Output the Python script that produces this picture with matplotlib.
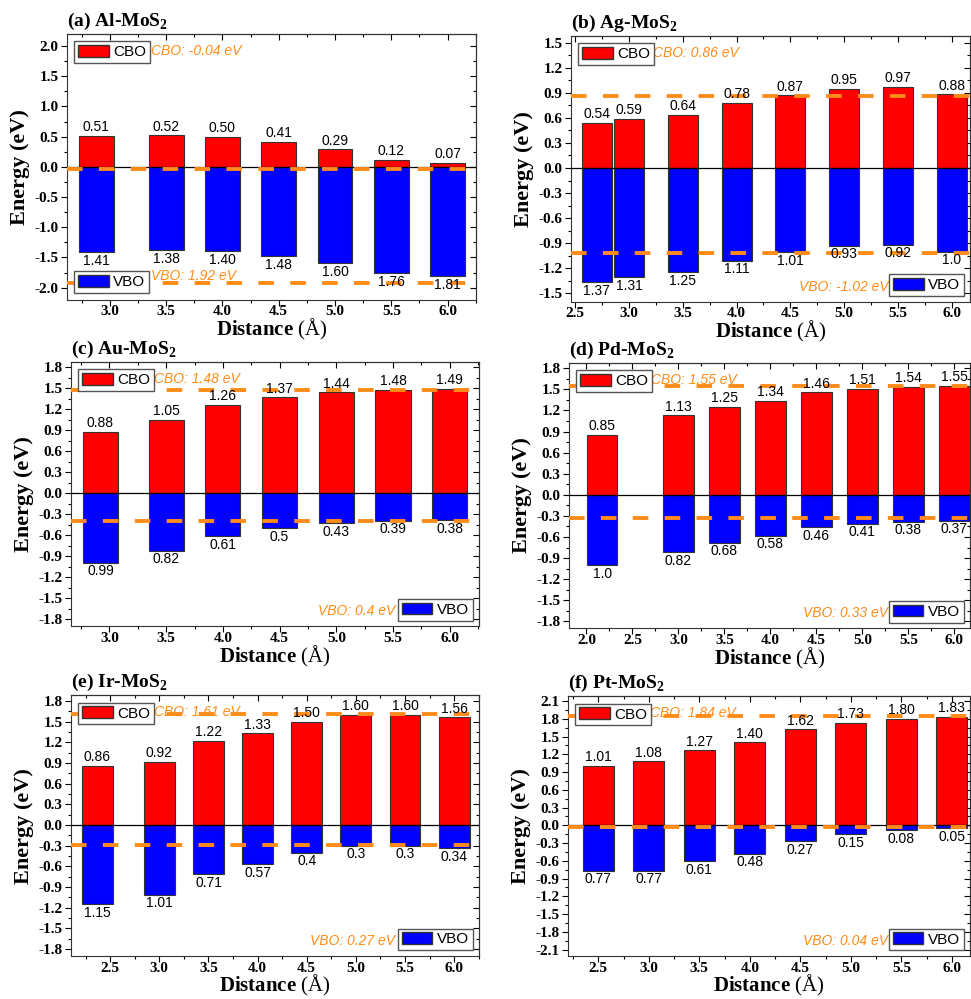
import numpy as np
import matplotlib.pyplot as plt
from matplotlib.ticker import MultipleLocator, FuncFormatter
from matplotlib.patches import Patch

plt.rcParams['font.family'] = 'Liberation Serif'
plt.rcParams['mathtext.fontset'] = 'custom'
plt.rcParams['mathtext.rm'] = 'Liberation Serif'
plt.rcParams['mathtext.bf'] = 'Liberation Serif:bold'

# panel data: distance (A), CBO, VBO, reference levels
titles = ["(a) Al-MoS$_\\mathbf{2}$", "(b) Ag-MoS$_\\mathbf{2}$", "(c) Au-MoS$_\\mathbf{2}$",
          "(d) Pd-MoS$_\\mathbf{2}$", "(e) Ir-MoS$_\\mathbf{2}$", "(f) Pt-MoS$_\\mathbf{2}$"]

dist_a = [2.88, 3.5, 4.0, 4.5, 5.0, 5.5, 6.0]
cbo_a = [0.51, 0.52, 0.50, 0.41, 0.29, 0.12, 0.07]
vbo_a = [-1.41, -1.38, -1.40, -1.48, -1.60, -1.76, -1.81]
vbo_lbl_a = ["1.41", "1.38", "1.40", "1.48", "1.60", "1.76", "1.81"]

dist_b = [2.7, 3.0, 3.5, 4.0, 4.5, 5.0, 5.5, 6.0]
cbo_b = [0.54, 0.59, 0.64, 0.78, 0.87, 0.95, 0.97, 0.88]
vbo_b = [-1.37, -1.31, -1.25, -1.11, -1.01, -0.93, -0.92, -1.0]
vbo_lbl_b = ["1.37", "1.31", "1.25", "1.11", "1.01", "0.93", "0.92", "1.0"]

dist_c = [2.92, 3.5, 4.0, 4.5, 5.0, 5.5, 6.0]
cbo_c = [0.88, 1.05, 1.26, 1.37, 1.44, 1.48, 1.49]
vbo_c = [-0.99, -0.82, -0.61, -0.5, -0.43, -0.39, -0.38]
vbo_lbl_c = ["0.99", "0.82", "0.61", "0.5", "0.43", "0.39", "0.38"]

dist_d = [2.17, 3.0, 3.5, 4.0, 4.5, 5.0, 5.5, 6.0]
cbo_d = [0.85, 1.13, 1.25, 1.34, 1.46, 1.51, 1.54, 1.55]
vbo_d = [-1.0, -0.82, -0.68, -0.58, -0.46, -0.41, -0.38, -0.37]
vbo_lbl_d = ["1.0", "0.82", "0.68", "0.58", "0.46", "0.41", "0.38", "0.37"]

dist_e = [2.37, 3.0, 3.5, 4.0, 4.5, 5.0, 5.5, 6.0]
cbo_e = [0.86, 0.92, 1.22, 1.33, 1.50, 1.60, 1.60, 1.56]
vbo_e = [-1.15, -1.01, -0.71, -0.57, -0.4, -0.3, -0.3, -0.34]
vbo_lbl_e = ["1.15", "1.01", "0.71", "0.57", "0.4", "0.3", "0.3", "0.34"]

dist_f = [2.5, 3.0, 3.5, 4.0, 4.5, 5.0, 5.5, 6.0]
cbo_f = [1.01, 1.08, 1.27, 1.40, 1.62, 1.73, 1.80, 1.83]
vbo_f = [-0.77, -0.77, -0.61, -0.48, -0.27, -0.15, -0.08, -0.05]
vbo_lbl_f = ["0.77", "0.77", "0.61", "0.48", "0.27", "0.15", "0.08", "0.05"]

cbo_level = [-0.04, 0.86, 1.48, 1.55, 1.61, 1.84]
vbo_level = [-1.92, -1.02, -0.40, -0.33, -0.29, -0.03]
cbo_text = ["CBO: -0.04 eV", "CBO: 0.86 eV", "CBO: 1.48 eV", "CBO: 1.55 eV", "CBO: 1.61 eV", "CBO: 1.84 eV"]
vbo_text = ["VBO: 1.92 eV", "VBO: -1.02 eV", "VBO: 0.4 eV", "VBO: 0.33 eV", "VBO: 0.27 eV", "VBO: 0.04 eV"]

dists = [dist_a, dist_b, dist_c, dist_d, dist_e, dist_f]
cbos = [cbo_a, cbo_b, cbo_c, cbo_d, cbo_e, cbo_f]
vbos = [vbo_a, vbo_b, vbo_c, vbo_d, vbo_e, vbo_f]
vbo_lbls = [vbo_lbl_a, vbo_lbl_b, vbo_lbl_c, vbo_lbl_d, vbo_lbl_e, vbo_lbl_f]

# layout (figure fractions) and axis settings
boxes = [[0.069, 0.700, 0.421, 0.266], [0.588, 0.698, 0.411, 0.266],
         [0.073, 0.373, 0.420, 0.265], [0.586, 0.371, 0.413, 0.266],
         [0.073, 0.043, 0.420, 0.261], [0.585, 0.043, 0.414, 0.260]]
xlims = [(2.62, 6.25), (2.46, 6.17), (2.66, 6.255), (1.81, 6.17), (2.1, 6.25), (2.2, 6.18)]
ylims = [(-2.2, 2.2), (-1.6, 1.58), (-1.9, 1.88), (-1.9, 1.88), (-1.9, 1.88), (-2.21, 2.18)]
ysteps = [0.5, 0.3, 0.3, 0.3, 0.3, 0.3]
widths = [0.31, 0.28, 0.31, 0.33, 0.315, 0.307]

orange = '#ff8c1a'
fmt = FuncFormatter(lambda v, p: f"{round(v, 2) + 0.0:.1f}")
fig = plt.figure(figsize=(9.71, 9.99), dpi=100)

for i in range(6):
    ax = fig.add_axes(boxes[i])
    x = dists[i]
    yr = ylims[i][1] - ylims[i][0]
    ax.bar(x, cbos[i], width=widths[i], color='#ff0000', edgecolor='#333333', linewidth=0.8, zorder=2)
    ax.bar(x, vbos[i], width=widths[i], color='#0000ff', edgecolor='#333333', linewidth=0.8, zorder=2)
    ax.axhline(0, color='black', linewidth=0.9, zorder=3)
    ax.axhline(cbo_level[i], color=orange, linewidth=2.8, dashes=(4, 4.2), zorder=4)
    ax.axhline(vbo_level[i], color=orange, linewidth=2.8, dashes=(4, 4.2), zorder=4)

    for xi, c, v, lbl in zip(x, cbos[i], vbos[i], vbo_lbls[i]):
        ax.text(xi, c + 0.006 * yr, f"{c:.2f}", ha='center', va='bottom',
                fontsize=10, family='Liberation Sans', zorder=5)
        ax.text(xi, v - 0.006 * yr, lbl, ha='center', va='top',
                fontsize=10, family='Liberation Sans', zorder=5)

    ax.set_xlim(xlims[i])
    ax.set_ylim(ylims[i])
    ax.xaxis.set_major_locator(MultipleLocator(0.5))
    ax.xaxis.set_minor_locator(MultipleLocator(0.25))
    ax.yaxis.set_major_locator(MultipleLocator(ysteps[i]))
    ax.yaxis.set_minor_locator(MultipleLocator(ysteps[i] / 2))
    ax.xaxis.set_major_formatter(fmt)
    ax.yaxis.set_major_formatter(fmt)
    ax.tick_params(which='both', direction='out', top=False, right=False, labelsize=11, width=0.8, pad=2)
    ax.tick_params(axis='x', pad=0)
    ax.tick_params(which='major', length=4)
    ax.tick_params(which='minor', length=2)
    for lab in ax.get_xticklabels() + ax.get_yticklabels():
        lab.set_fontweight('bold')
    # inward ticks on top and right, Origin-style
    sec_x = ax.secondary_xaxis('top')
    sec_x.xaxis.set_major_locator(MultipleLocator(0.5))
    sec_x.xaxis.set_minor_locator(MultipleLocator(0.25))
    sec_x.tick_params(which='both', direction='in', labeltop=False, width=0.8)
    sec_x.tick_params(which='major', length=4)
    sec_x.tick_params(which='minor', length=2)
    sec_y = ax.secondary_yaxis('right')
    sec_y.yaxis.set_major_locator(MultipleLocator(ysteps[i]))
    sec_y.yaxis.set_minor_locator(MultipleLocator(ysteps[i] / 2))
    sec_y.tick_params(which='both', direction='in', labelright=False, width=0.8)
    sec_y.tick_params(which='major', length=4)
    sec_y.tick_params(which='minor', length=2)
    for sp in list(ax.spines.values()):
        sp.set_color('#333333')

    ax.set_ylabel("Energy (eV)", fontsize=16, fontweight='bold', labelpad=3)
    ax.set_xlabel("Distance $\\mathrm{(Å)}$", fontsize=15, fontweight='bold', labelpad=-1)
    ax.text(0.0, 1.008, titles[i], transform=ax.transAxes, fontsize=14, fontweight='bold',
            ha='left', va='bottom')

    # legends
    leg_kw = dict(prop={'family': 'Liberation Sans', 'size': 11}, fancybox=False,
                  edgecolor='#555555', framealpha=1, borderpad=0.25, borderaxespad=0,
                  handlelength=2.0, handleheight=0.8, handletextpad=0.3)
    leg1 = ax.legend(handles=[Patch(facecolor='#ff0000', edgecolor='#333333', label='CBO')],
                     loc='upper left', bbox_to_anchor=(0.018, 0.972), **leg_kw)
    ax.add_artist(leg1)
    vbo_loc = 'lower left' if i == 0 else 'lower right'
    vbo_anchor = (0.018, 0.025) if i == 0 else (0.985, 0.022)
    ax.legend(handles=[Patch(facecolor='#0000ff', edgecolor='#333333', label='VBO')],
              loc=vbo_loc, bbox_to_anchor=vbo_anchor, **leg_kw)

    ax.text(0.205, 0.936, cbo_text[i], transform=ax.transAxes, color=orange, fontsize=10,
            style='italic', family='Liberation Sans', ha='left', va='center')
    if i == 0:
        ax.text(0.205, 0.09, vbo_text[i], transform=ax.transAxes, color=orange, fontsize=10,
                style='italic', family='Liberation Sans', ha='left', va='center')
    else:
        ax.text(0.795, 0.057, vbo_text[i], transform=ax.transAxes, color=orange, fontsize=10,
                style='italic', family='Liberation Sans', ha='right', va='center')

fig.savefig("out.png", dpi=100)
